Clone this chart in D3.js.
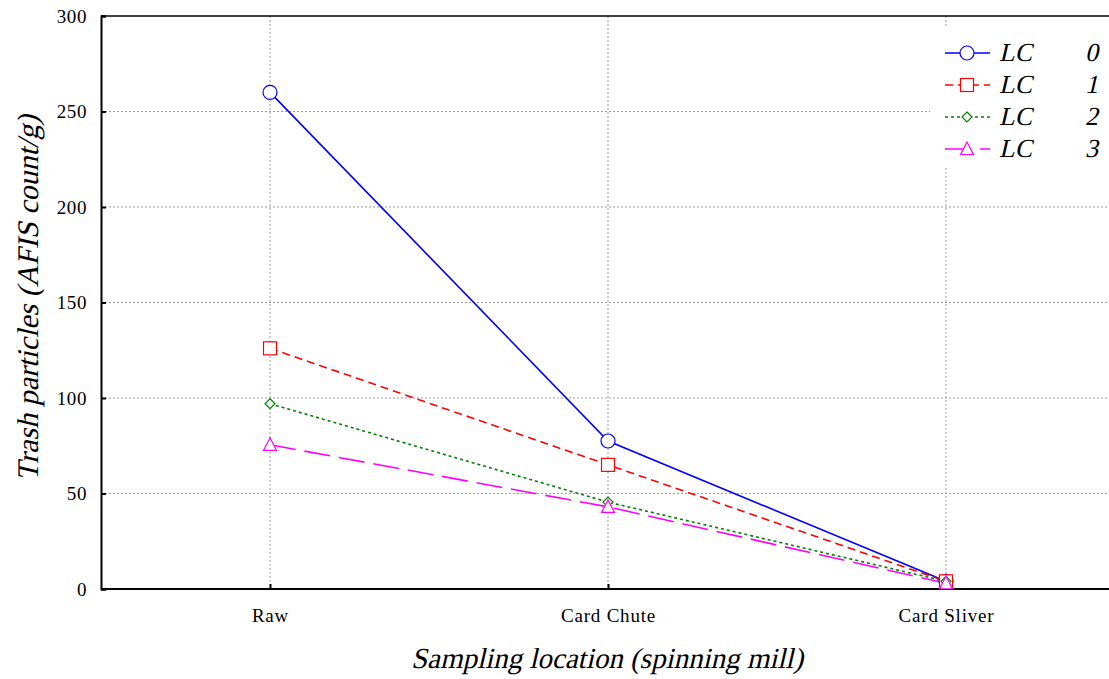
<!DOCTYPE html>
<html><head><meta charset="utf-8">
<script src="https://cdn.jsdelivr.net/npm/d3@7"></script>
<style>body{margin:0;background:#fff}svg{display:block}
svg text{font-family:"Liberation Serif","Tinos","DejaVu Serif","Times New Roman",serif !important;}</style>
</head><body>
<svg id="c" width="1109" height="679"></svg>
<script>
const categories = ["Raw", "Card Chute", "Card Sliver"];
const seriesNames = ["0", "1", "2", "3"];
const lc0 = [260, 77.5, 4];
const lc1 = [126, 65, 4];
const lc2 = [97, 45.5, 4];
const lc3 = [75.5, 43, 3];
const yTicks = [0, 50, 100, 150, 200, 250, 300];

const series = [
  {name: seriesNames[0], values: lc0, color: "#0000ff", dash: null, marker: "circle"},
  {name: seriesNames[1], values: lc1, color: "#ff0000", dash: "8,5", marker: "square"},
  {name: seriesNames[2], values: lc2, color: "#008000", dash: "3,3", marker: "diamond"},
  {name: seriesNames[3], values: lc3, color: "#ff00ff", dash: "26,9", marker: "triangle"}
];

const svg = d3.select("#c");
const L = 101, R = 1115, T = 16, B = 589;
const x = d3.scalePoint().domain(categories).range([L, R]).padding(0.5);
const y = d3.scaleLinear().domain([0, 300]).range([B, T]);
const SK = "skewX(-13)";

// grid
const g = svg.append("g");
g.selectAll(".hg").data(yTicks.slice(1, -1)).enter().append("line")
  .attr("x1", L).attr("x2", R).attr("y1", d => y(d)).attr("y2", d => y(d))
  .attr("stroke", "#999").attr("stroke-dasharray", "2,2").attr("stroke-width", 1);
g.selectAll(".vg").data(categories).enter().append("line")
  .attr("x1", d => x(d)).attr("x2", d => x(d)).attr("y1", T).attr("y2", B)
  .attr("stroke", "#999").attr("stroke-dasharray", "2,2").attr("stroke-width", 1);

// frame
svg.append("line").attr("x1", L).attr("x2", R).attr("y1", T).attr("y2", T).attr("stroke", "#000").attr("stroke-width", 1.5);
svg.append("line").attr("x1", R).attr("x2", R).attr("y1", T).attr("y2", B).attr("stroke", "#000").attr("stroke-width", 1.5);

// axes
const yAxis = d3.axisLeft(y).tickValues(yTicks).tickSize(-5).tickPadding(14);
const ya = svg.append("g").attr("transform", `translate(${L},0)`).call(yAxis);
ya.select(".domain").attr("stroke-width", 2);
ya.selectAll(".tick line").attr("stroke-width", 2);
ya.selectAll("text").attr("font-size", 19).attr("letter-spacing", 0.6).attr("fill", "#000");

const xAxis = d3.axisBottom(x).tickSize(-5).tickPadding(20);
const xa = svg.append("g").attr("transform", `translate(0,${B})`).call(xAxis);
xa.select(".domain").attr("stroke-width", 2).attr("d", `M${L},0H${R}`);
xa.selectAll(".tick line").attr("stroke-width", 2);
xa.selectAll("text").attr("font-size", 19).attr("letter-spacing", 0.8).attr("fill", "#000");

// titles (pseudo-italic via skew)
svg.append("text").attr("transform", `translate(607,668) ${SK}`).attr("text-anchor", "middle")
  .attr("font-size", 29)
  .text("Sampling location (spinning mill)");
svg.append("text").attr("transform", `translate(38,298) rotate(-90) ${SK}`).attr("text-anchor", "middle")
  .attr("font-size", 30)
  .text("Trash particles (AFIS count/g)");

function drawMarker(sel, type, color) {
  if (type === "circle") sel.append("circle").attr("r", 7);
  else if (type === "square") sel.append("rect").attr("x", -6.5).attr("y", -6.5).attr("width", 13).attr("height", 13);
  else if (type === "diamond") sel.append("path").attr("d", "M0,-5L5,0L0,5L-5,0Z");
  else sel.append("path").attr("d", "M0,-7L6.5,5.5L-6.5,5.5Z");
  sel.selectAll("*").attr("fill", "#fff").attr("stroke", color).attr("stroke-width", 1.2);
}

const line = d3.line().x((d, i) => x(categories[i])).y(d => y(d));
series.forEach(s => {
  svg.append("path").datum(s.values).attr("d", line).attr("fill", "none")
    .attr("stroke", s.color).attr("stroke-width", 1.6).attr("stroke-dasharray", s.dash);
});
series.forEach(s => {
  s.values.forEach((v, i) => {
    const m = svg.append("g").attr("transform", `translate(${x(categories[i])},${y(v)})`);
    drawMarker(m, s.marker, s.color);
  });
});

// legend
const lg = svg.append("g");
lg.append("rect").attr("x", 930).attr("y", 28).attr("width", 179).attr("height", 140).attr("fill", "#fff");
series.forEach((s, i) => {
  const yy = 53 + i * 32;
  lg.append("line").attr("x1", 945).attr("x2", 990).attr("y1", yy).attr("y2", yy)
    .attr("stroke", s.color).attr("stroke-width", 1.6).attr("stroke-dasharray", s.dash);
  const m = lg.append("g").attr("transform", `translate(967,${yy})`);
  drawMarker(m, s.marker, s.color);
  lg.append("text").attr("transform", `translate(999,${yy + 8}) ${SK}`)
    .attr("font-size", 26).text("LC");
  lg.append("text").attr("transform", `translate(1098,${yy + 8}) ${SK}`).attr("text-anchor", "end")
    .attr("font-size", 26).text(s.name);
});
</script>
</body></html>
